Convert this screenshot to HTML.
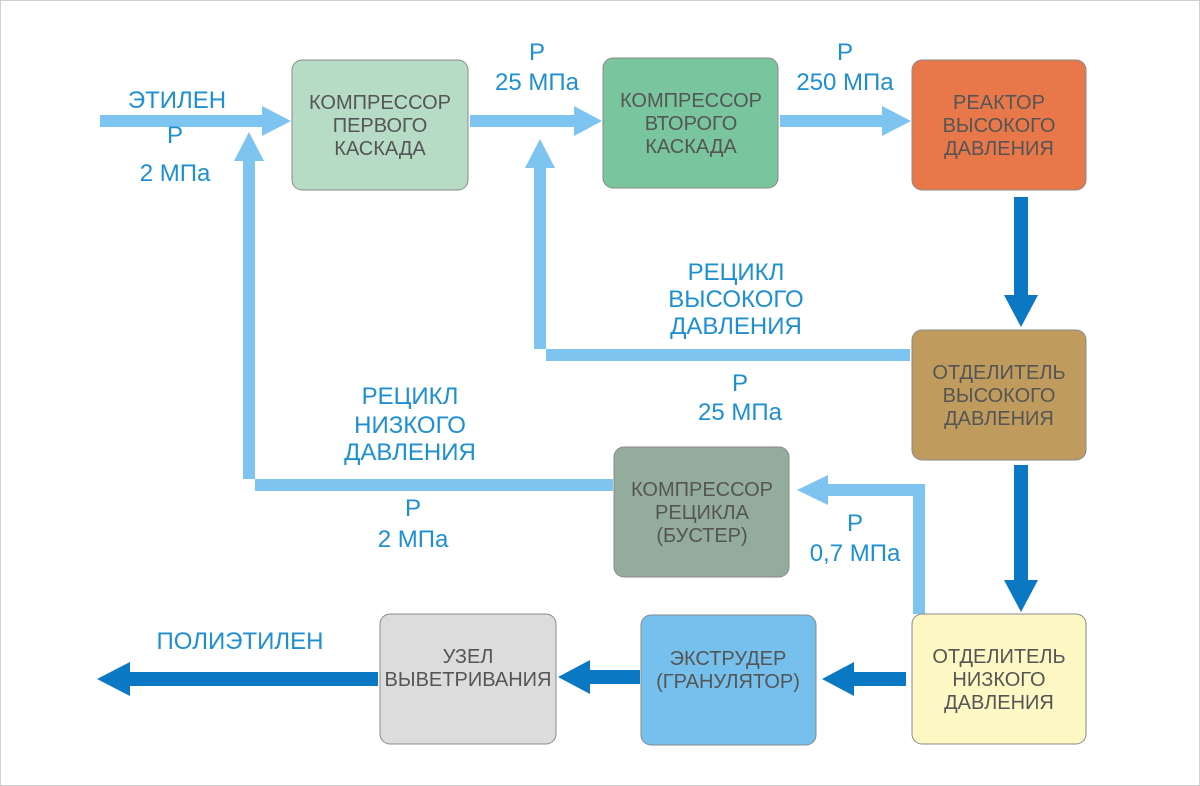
<!DOCTYPE html>
<html><head><meta charset="utf-8"><style>
html,body{margin:0;padding:0;background:#fff}
svg{display:block}
.l{font-family:"Liberation Sans",sans-serif;font-size:24px;fill:#1e8fd0;text-anchor:middle}
.b{font-family:"Liberation Sans",sans-serif;font-size:20px;fill:#555;text-anchor:middle}
</style></head><body>
<svg width="1200" height="786" viewBox="0 0 1200 786">
<rect x="0.5" y="0.5" width="1199" height="785" fill="#fff" stroke="#d0d0d0"/>
<g fill="#7dc4f0">
<rect x="100" y="115" width="165" height="12"/><polygon points="262,106 291,121 262,136"/>
<rect x="470" y="115" width="108" height="12"/><polygon points="574,106 602,121 574,136"/>
<rect x="780" y="115" width="106" height="12"/><polygon points="882,106 911,121 882,136"/>
<polygon points="910,349 534,349 534,166 546,166 546,361 910,361"/>
<polygon points="525,168 540,139 555,168"/>
<polygon points="613,479 243,479 243,158 255,158 255,491 613,491"/>
<polygon points="234,161 249,132 264,161"/>
<polygon points="925,614 913,614 913,496 826,496 826,484 925,484"/>
<polygon points="828,475 797,490 828,505"/>
</g>
<g fill="#0a78c3">
<rect x="1014" y="197" width="14" height="100"/><polygon points="1004,295 1038,295 1021,327"/>
<rect x="1014" y="465" width="14" height="117"/><polygon points="1004,580 1038,580 1021,612"/>
<rect x="852" y="672" width="54" height="14"/><polygon points="854,662 854,696 822,679"/>
<rect x="588" y="670" width="52" height="14"/><polygon points="590,660 590,694 558,677"/>
<rect x="128" y="672" width="250" height="14"/><polygon points="130,662 130,696 97,679"/>
</g>
<g stroke="#8a8a8a" stroke-width="1">
<rect x="292" y="60" width="176" height="130" rx="10" fill="#b6dcc6"/>
<rect x="603" y="58" width="175" height="130" rx="10" fill="#79c59d"/>
<rect x="912" y="60" width="174" height="130" rx="10" fill="#e8784a"/>
<rect x="912" y="330" width="174" height="130" rx="10" fill="#bf9c5d"/>
<rect x="614" y="447" width="175" height="130" rx="10" fill="#94ac9b"/>
<rect x="912" y="614" width="174" height="130" rx="10" fill="#fdf8c4"/>
<rect x="641" y="615" width="175" height="130" rx="10" fill="#75c0ec"/>
<rect x="380" y="614" width="176" height="130" rx="10" fill="#dcdcdc"/>
</g>
<text x="380" y="109" class="b">КОМПРЕССОР</text><text x="380" y="132" class="b">ПЕРВОГО</text><text x="380" y="155" class="b">КАСКАДА</text>
<text x="691" y="107" class="b">КОМПРЕССОР</text><text x="691" y="130" class="b">ВТОРОГО</text><text x="691" y="153" class="b">КАСКАДА</text>
<text x="999" y="109" class="b">РЕАКТОР</text><text x="999" y="132" class="b">ВЫСОКОГО</text><text x="999" y="155" class="b">ДАВЛЕНИЯ</text>
<text x="999" y="379" class="b">ОТДЕЛИТЕЛЬ</text><text x="999" y="402" class="b">ВЫСОКОГО</text><text x="999" y="425" class="b">ДАВЛЕНИЯ</text>
<text x="702" y="496" class="b">КОМПРЕССОР</text><text x="702" y="519" class="b">РЕЦИКЛА</text><text x="702" y="542" class="b">(БУСТЕР)</text>
<text x="999" y="663" class="b">ОТДЕЛИТЕЛЬ</text><text x="999" y="686" class="b">НИЗКОГО</text><text x="999" y="709" class="b">ДАВЛЕНИЯ</text>
<text x="728" y="665" class="b">ЭКСТРУДЕР</text><text x="728" y="688" class="b">(ГРАНУЛЯТОР)</text>
<text x="468" y="663" class="b">УЗЕЛ</text><text x="468" y="686" class="b">ВЫВЕТРИВАНИЯ</text>
<text x="177" y="108" class="l">ЭТИЛЕН</text>
<text x="175" y="143" class="l">P</text><text x="175" y="181" class="l">2 МПа</text>
<text x="537" y="60" class="l">P</text><text x="537" y="90" class="l">25 МПа</text>
<text x="845" y="60" class="l">P</text><text x="845" y="90" class="l">250 МПа</text>
<text x="736" y="280" class="l">РЕЦИКЛ</text><text x="736" y="307" class="l">ВЫСОКОГО</text><text x="736" y="334" class="l">ДАВЛЕНИЯ</text>
<text x="740" y="391" class="l">P</text><text x="740" y="420" class="l">25 МПа</text>
<text x="410" y="404" class="l">РЕЦИКЛ</text><text x="410" y="433" class="l">НИЗКОГО</text><text x="410" y="460" class="l">ДАВЛЕНИЯ</text>
<text x="413" y="516" class="l">P</text><text x="413" y="547" class="l">2 МПа</text>
<text x="855" y="531" class="l">P</text><text x="855" y="561" class="l">0,7 МПа</text>
<text x="240" y="649" class="l">ПОЛИЭТИЛЕН</text>
</svg>
</body></html>
